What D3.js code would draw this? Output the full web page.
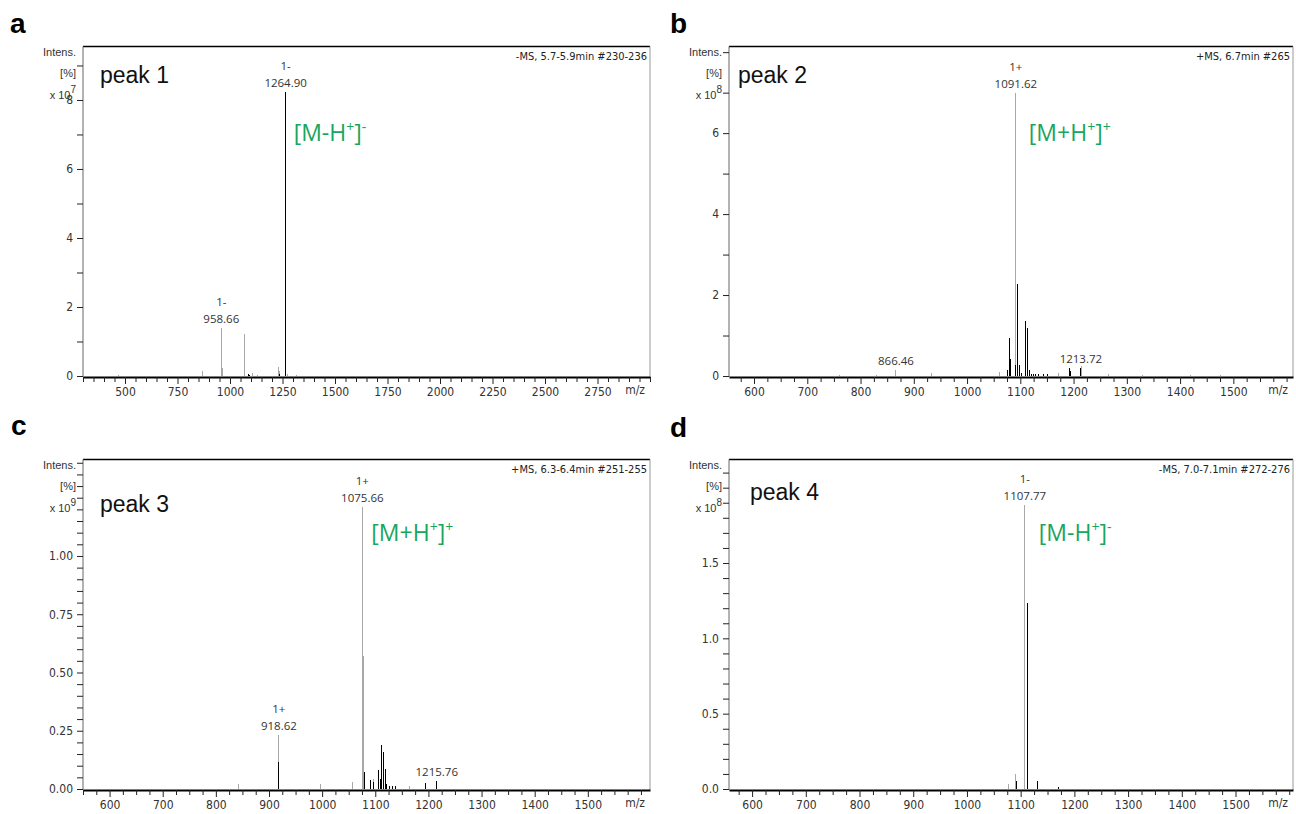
<!DOCTYPE html>
<html>
<head>
<meta charset="utf-8">
<script src="https://cdnjs.cloudflare.com/ajax/libs/d3/7.8.5/d3.min.js"></script>
<style>
  body { margin: 0; background: #fff; }
  text { font-family: "Liberation Sans", Arial, sans-serif; }
  .narrow { font-family: "Liberation Sans Narrow", "Arial Narrow", "DejaVu Sans Condensed", sans-serif; }
  .lbl { font-family: "Open Sans", "Liberation Sans", sans-serif; }
</style>
</head>
<body>
<script>
// ---- data: [m/z, intensity in axis units] ----

// peak 1 (-MS), intensity x10^7
const grayA = [[470, 0.02], [868, 0.15], [958.66, 1.38], [962, 0.22], [1071, 1.22], [1106, 0.1],
  [1130, 0.04], [1230, 0.25], [1238, 0.15], [1275, 0.06], [1318, 0.03]];
const blackA = [[1087, 0.05], [1095, 0.04], [1235, 0.06], [1264.90, 8.23]];
const labelsA = [{ mz: 958.66, charge: "1-" }, { mz: 1264.90, charge: "1-" }];

// peak 2 (+MS), intensity x10^8
const grayB = [[760, 0.02], [830, 0.02], [866.46, 0.15], [933, 0.08], [1060, 0.09], [1091.62, 7.0],
  [1172, 0.08], [1215, 0.25], [1265, 0.05], [1330, 0.02], [1420, 0.03], [1475, 0.03]];
const blackB = [[1075, 0.15], [1079.4, 0.93], [1081.3, 0.41], [1090.7, 0.27], [1095, 2.27], [1098, 0.27],
  [1103, 0.07], [1110.5, 1.36], [1113, 1.19], [1114.2, 0.4], [1117, 0.15], [1121, 0.05], [1125, 0.05],
  [1128, 0.05], [1134, 0.04], [1143.5, 0.04], [1151.6, 0.04], [1191.6, 0.19], [1193.5, 0.13], [1213.72, 0.19]];
const labelsB = [{ mz: 866.46, charge: "" }, { mz: 1091.62, charge: "1+" }, { mz: 1213.72, charge: "" }];

// peak 3 (+MS), intensity x10^9
const grayC = [[842, 0.02], [918.62, 0.23], [997, 0.02], [1058, 0.03], [1075.66, 1.21], [1077, 0.571],
  [1078.5, 0.571], [1096, 0.045], [1164, 0.015]];
const blackC = [[918.62, 0.117], [1080.4, 0.074], [1091.7, 0.039], [1096.6, 0.03], [1106, 0.08], [1110.5, 0.045],
  [1112.4, 0.19], [1115, 0.16], [1118.7, 0.085], [1122, 0.02], [1127, 0.015], [1132, 0.015], [1138, 0.012],
  [1193.6, 0.024], [1215.76, 0.034]];
const labelsC = [{ mz: 918.62, charge: "1+" }, { mz: 1075.66, charge: "1+" }, { mz: 1215.76, charge: "" }];

// peak 4 (-MS), intensity x10^8
const grayD = [[1076.5, 0.03], [1090.7, 0.1], [1107.77, 1.886]];
const blackD = [[1091.9, 0.05], [1112.2, 1.235], [1131.5, 0.05], [1171, 0.012]];
const labelsD = [{ mz: 1107.77, charge: "1-" }];

// axes
const xTicksA = [500, 750, 1000, 1250, 1500, 1750, 2000, 2250, 2500, 2750];
const xTicksBCD = [600, 700, 800, 900, 1000, 1100, 1200, 1300, 1400, 1500];
const yTicksA = [0, 2, 4, 6, 8];
const yTicksB = [0, 2, 4, 6];
const yTicksC = [0, 0.25, 0.5, 0.75, 1.0];
const yTicksD = [0, 0.5, 1.0, 1.5];

const panelLetters = ["a", "b", "c", "d"];
const peakNames = ["peak 1", "peak 2", "peak 3", "peak 4"];
const scanInfo = ["-MS, 5.7-5.9min #230-236", "+MS, 6.7min #265", "+MS, 6.3-6.4min #251-255", "-MS, 7.0-7.1min #272-276"];
const exponents = ["7", "8", "9", "8"];
const ionNames = [["[M-H", "+", "]", "-"], ["[M+H", "+", "]", "+"], ["[M+H", "+", "]", "+"], ["[M-H", "+", "]", "-"]];

const W = 1296, H = 814;
const GREEN = "#19a55c";

const svg = d3.select("body").append("svg")
  .attr("width", W).attr("height", H)
  .style("display", "block");
svg.append("rect").attr("width", W).attr("height", H).attr("fill", "#fff");

// layout of the four panels
const panels = [
  { gray: grayA, black: blackA, labels: labelsA, xDomain: [300, 3000], yMax: 9.55,
    xTicks: xTicksA, xMinor: 50, yTicks: yTicksA, yMinor: 1, yFmt: d3.format("d"),
    box: { left: 83, right: 650, top: 46.5, bottom: 377 }, letter: [10, 33], name: [100, 83],
    ionMz: 1264.90, ion: [8, 94] },
  { gray: grayB, black: blackB, labels: labelsB, xDomain: [553, 1612], yMax: 8.14,
    xTicks: xTicksBCD, xMinor: 25, yTicks: yTicksB, yMinor: 1, yFmt: d3.format("d"),
    box: { left: 729, right: 1293, top: 46.5, bottom: 377 }, letter: [670, 33], name: [738, 83],
    ionMz: 1091.62, ion: [13, 94] },
  { gray: grayC, black: blackC, labels: labelsC, xDomain: [550, 1617], yMax: 1.414,
    xTicks: xTicksBCD, xMinor: 25, yTicks: yTicksC, yMinor: 0.05, yFmt: d3.format(".2f"),
    box: { left: 83, right: 650, top: 459.5, bottom: 790 }, letter: [11, 435], name: [100, 512],
    ionMz: 1075.66, ion: [9, 81] },
  { gray: grayD, black: blackD, labels: labelsD, xDomain: [557, 1607], yMax: 2.187,
    xTicks: xTicksBCD, xMinor: 25, yTicks: yTicksD, yMinor: 0.1, yFmt: d3.format(".1f"),
    box: { left: 729, right: 1293, top: 459.5, bottom: 790 }, letter: [670, 437], name: [750, 500],
    ionMz: 1107.77, ion: [14, 81] }
];

/**
 * Draw one mass spectrum panel.
 */
function drawPanel(p, i) {
  const b = p.box;
  const g = svg.append("g");
  const x = d3.scaleLinear().domain(p.xDomain).range([b.left, b.right]);
  const y = d3.scaleLinear().domain([0, p.yMax]).range([b.bottom - 1, b.top]);

  // panel letter and name
  g.append("text").attr("x", p.letter[0]).attr("y", p.letter[1])
    .attr("font-size", 28).attr("font-weight", "bold").attr("fill", "#000").text(panelLetters[i]);

  // frame: top black, right gray
  g.append("line").attr("x1", b.left).attr("x2", b.right).attr("y1", b.top).attr("y2", b.top)
    .attr("stroke", "#000").attr("stroke-width", 1.5);
  g.append("line").attr("x1", b.right).attr("x2", b.right).attr("y1", b.top).attr("y2", b.bottom)
    .attr("stroke", "#999").attr("stroke-width", 1);

  // y axis
  const yVals = d3.range(0, Math.floor(p.yMax / p.yMinor + 1e-6) + 1).map(k => k * p.yMinor);
  const isLabel = v => p.yTicks.some(t => Math.abs(t - v) < 1e-6);
  const yAxis = g.append("g").attr("transform", `translate(${b.left},0)`)
    .call(d3.axisLeft(y).tickValues(yVals).tickSize(6).tickSizeOuter(0).tickPadding(4)
      .tickFormat(v => isLabel(v) ? p.yFmt(v) : ""));
  yAxis.select(".domain").attr("stroke", "#666").attr("d", `M0,${b.top}V${b.bottom}`);
  yAxis.selectAll(".tick line").attr("stroke", "#222");
  yAxis.selectAll(".tick text").attr("class", "narrow").attr("font-size", 12).attr("fill", "#333");

  // y axis title block
  const tx = b.left - 7;
  const ttl = g.append("g").attr("class", "narrow").attr("font-size", 11).attr("fill", "#333")
    .attr("text-anchor", "end");
  ttl.append("text").attr("x", tx).attr("y", b.top + 9.5).text("Intens.");
  ttl.append("text").attr("x", tx).attr("y", b.top + 30).text("[%]");
  const ex = ttl.append("text").attr("x", tx).attr("y", b.top + 52);
  ex.append("tspan").text("x 10");
  ex.append("tspan").attr("dy", -6).attr("font-size", 10).text(exponents[i]);

  // x axis
  const xVals = d3.range(Math.ceil(p.xDomain[0] / p.xMinor), Math.floor(p.xDomain[1] / p.xMinor) + 1)
    .map(k => k * p.xMinor);
  const isMajor = v => p.xTicks.includes(v);
  const xAxis = g.append("g").attr("transform", `translate(0,${b.bottom})`)
    .call(d3.axisBottom(x).tickValues(xVals).tickSize(6).tickSizeOuter(0).tickPadding(4)
      .tickFormat(v => isMajor(v) ? v : ""));
  xAxis.select(".domain").attr("stroke", "#000").attr("stroke-width", 2.2);
  xAxis.selectAll(".tick line").attr("stroke", "#222").attr("y2", v => isMajor(v) ? 7 : 5);
  xAxis.selectAll(".tick text").attr("class", "narrow").attr("font-size", 12).attr("fill", "#333");
  g.append("text").attr("class", "narrow").attr("x", b.right - 5).attr("y", b.bottom + 17)
    .attr("text-anchor", "end").attr("font-size", 12).attr("fill", "#333").text("m/z");

  // scan info
  g.append("text").attr("class", "narrow").attr("x", b.right - 3).attr("y", b.top + 13.5)
    .attr("text-anchor", "end").attr("font-size", 11).attr("fill", "#222").text(scanInfo[i]);

  // peak name
  g.append("text").attr("x", p.name[0]).attr("y", p.name[1])
    .attr("font-size", 23).attr("fill", "#111").text(peakNames[i]);

  // stick peaks: gray (profile) first, then black
  const drawSticks = (data, color) => {
    g.append("g").selectAll("line").data(data).join("line")
      .attr("x1", d => x(d[0])).attr("x2", d => x(d[0]))
      .attr("y1", y(0)).attr("y2", d => y(d[1]))
      .attr("stroke", color).attr("stroke-width", 1)
      .attr("shape-rendering", "crispEdges");
  };
  drawSticks(p.gray, "#a8a8a8");
  drawSticks(p.black, "#000");

  // peak labels
  const all = p.gray.concat(p.black);
  p.labels.forEach(l => {
    const top = d3.max(all.filter(d => Math.abs(d[0] - l.mz) < 0.3), d => d[1]);
    const lx = x(l.mz), ly = y(top);
    g.append("text").attr("class", "lbl").attr("x", lx).attr("y", ly - 5)
      .attr("text-anchor", "middle").attr("font-size", 11.5).attr("fill", "#333")
      .text(l.mz.toFixed(2));
    if (l.charge) {
      g.append("text").attr("class", "lbl").attr("x", lx).attr("y", ly - 22)
        .attr("text-anchor", "middle").attr("font-size", 11.5).attr("fill", "#333")
        .text(l.charge);
    }
  });

  // ion annotation in green
  const ion = ionNames[i];
  const it = g.append("text").attr("class", "lbl").attr("x", x(p.ionMz) + p.ion[0]).attr("y", b.top + p.ion[1])
    .attr("font-size", 23).attr("fill", GREEN);
  it.append("tspan").text(ion[0]);
  it.append("tspan").attr("font-size", 14).attr("dy", -9).text(ion[1]);
  it.append("tspan").attr("dy", 9).text(ion[2]);
  it.append("tspan").attr("font-size", 14).attr("dy", -9).text(ion[3]);
}

panels.forEach(drawPanel);
</script>
</body>
</html>
